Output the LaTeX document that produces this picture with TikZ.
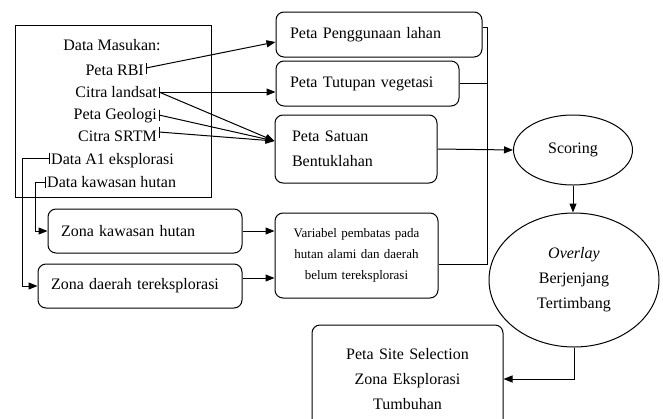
\documentclass[tikz,border=0pt]{standalone}
\usepackage{fontspec}
\setmainfont{Liberation Serif}
\usetikzlibrary{arrows.meta,shapes.geometric,calc}
\begin{document}
\begin{tikzpicture}[x=1pt,y=-1pt,
  every node/.style={font=\fontsize{16}{25}\selectfont},
  ln/.style={line width=1pt},
  arr/.style={ln,-{Triangle[length=9pt,width=7pt]}},
  rbox/.style={draw,ln,rounded corners=8pt,inner ysep=0pt},
  lbox/.style={rbox,align=left},
  ell/.style={draw,ln,ellipse,inner sep=0pt,align=center},
  lbl/.style={inner sep=0pt}
]
\useasboundingbox (0,0) rectangle (663,418);
% input box
\node[draw,ln,minimum width=196pt,minimum height=172pt,inner sep=0pt] (inbox) at (113,111) {};
\node[lbl,anchor=base] (hdr) at (112,50) {Data Masukan:};
\coordinate (trbi) at (146,68);
\node[lbl,anchor=base east] (rbi) at (144,75) {Peta RBI};
\coordinate (tlan) at (159,92);
\node[lbl,anchor=base east] (lan) at (157,97) {Citra landsat};
\coordinate (tgeo) at (159,115);
\node[lbl,anchor=base east] (geo) at (157,119.5) {Peta Geologi};
\coordinate (tsrtm) at (159,132);
\node[lbl,anchor=base east] (srtm) at (157,141) {Citra SRTM};
\coordinate (ta1) at (49,158);
\node[lbl,anchor=base west] (a1) at (51,164) {Data A1 eksplorasi};
\coordinate (tkh) at (45,182);
\node[lbl,anchor=base west] (kh) at (47,187) {Data kawasan hutan};
\foreach \t in {trbi,tlan,tgeo,tsrtm,ta1,tkh}
  \draw[ln] ([yshift=5.5pt]\t) -- ([yshift=-5.5pt]\t);
% boxes
\node[lbox,text width=178pt,inner xsep=14pt,minimum height=45pt] (peng) at (379,34.5) {Peta Penggunaan lahan};
\node[lbox,text width=155pt,inner xsep=14pt,minimum height=45pt] (tut) at (367.5,83.5) {Peta Tutupan vegetasi};
\node[lbox,text width=128pt,inner xsep=17pt,minimum height=68pt] (sat) at (356,149) {Peta Satuan\\Bentuklahan};
\node[rbox,align=center,text width=150pt,inner xsep=6.5pt,minimum height=85pt,font=\fontsize{13}{21}\selectfont] (var) at (356.5,255.5) {Variabel pembatas pada\\hutan alami dan daerah\\belum tereksplorasi};
\node[lbox,text width=168pt,inner xsep=13pt,minimum height=44pt] (kaw) at (145,231) {Zona kawasan hutan};
\node[lbox,text width=178pt,inner xsep=13pt,minimum height=44pt] (dae) at (140,286) {Zona daerah tereksplorasi};
\node[rbox,align=center,text width=171pt,inner xsep=10pt,minimum height=108pt] (site) at (407.5,379) {Peta Site Selection\\Zona Eksplorasi\\Tumbuhan};
\node[ell,minimum width=119pt,minimum height=70pt] (scor) at (573,150) {Scoring};
\node[ell,minimum width=170pt,minimum height=134pt] (ovl) at (574,280) {\textit{Overlay}\\Berjenjang\\Tertimbang};
% connectors
\draw[arr] (trbi) -- ([yshift=-7.5pt]peng.west);
\draw[arr] (tlan) -- (tlan -| tut.west);
\coordinate (satin) at ([yshift=8pt]sat.west);
\draw[arr] (tlan) -- (satin);
\draw[arr] (tgeo) -- (satin);
\draw[arr] (tsrtm) -- (satin);
\draw[arr] (ta1) -- ++(-27,0) |- (dae.west);
\draw[arr] (tkh) -- ++(-10,0) |- (kaw.west);
\draw[arr] (kaw.east) -- (kaw.east -| var.west);
\draw[arr] ([yshift=8pt]dae.east) -- ([yshift=8pt]dae.east -| var.west);
\coordinate (brk) at (487,264);
\draw[ln] ([yshift=7.5pt]peng.east) -| (brk) -- (brk -| var.east);
\draw[ln] (tut.east) -- (tut.east -| brk);
\draw[arr] (sat.east) -- (scor.west);
\draw[arr] (scor.south) -- (scor.south |- ovl.north);
\draw[arr] (ovl.south) |- (site.east);
\end{tikzpicture}
\end{document}
